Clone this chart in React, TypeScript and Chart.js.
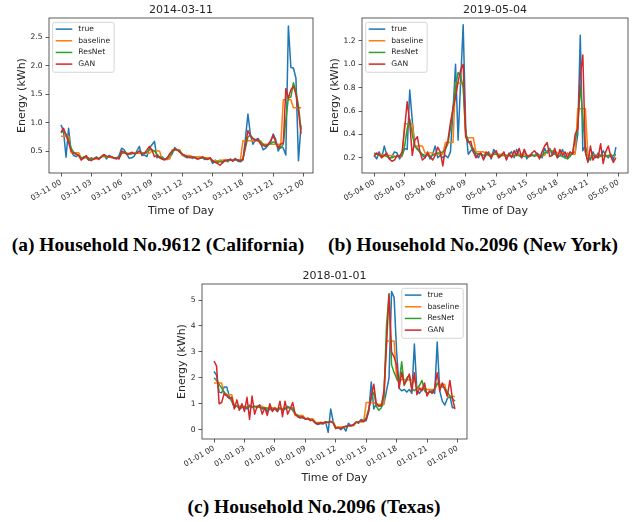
import React, { useEffect, useRef } from 'react';
import { Chart, registerables } from 'chart.js';

Chart.register(...registerables);
Chart.defaults.font.family = '"DejaVu Sans", sans-serif';

// ---------- shared ----------
const seriesNames = ['true', 'baseline', 'ResNet', 'GAN'];
const seriesColors = ['#1f77b4', '#ff7f0e', '#2ca02c', '#d62728'];
// 96 quarter-hour slots of one day, expressed in hours
const slotHours = Array.from({ length: 96 }, (_, i) => i / 4);
const tickHours = [0, 3, 6, 9, 12, 15, 18, 21, 24];

// ---------- (a) 2014-03-11 ----------
const xLabelsA = ['03-11 00', '03-11 03', '03-11 06', '03-11 09', '03-11 12', '03-11 15', '03-11 18', '03-11 21', '03-12 00'];
const yTicksA = [0.5, 1.0, 1.5, 2.0, 2.5];
const trueA = [
  0.96, 0.85, 0.39, 0.90, 0.50, 0.42, 0.40, 0.43, 0.36, 0.40, 0.38, 0.34,
  0.38, 0.36, 0.40, 0.35, 0.40, 0.43, 0.36, 0.42, 0.40, 0.37, 0.36, 0.42,
  0.55, 0.52, 0.45, 0.37, 0.38, 0.41, 0.50, 0.58, 0.42, 0.43, 0.40, 0.55,
  0.61, 0.67, 0.38, 0.40, 0.40, 0.36, 0.35, 0.38, 0.45, 0.56, 0.52, 0.50,
  0.43, 0.40, 0.38, 0.40, 0.37, 0.40, 0.36, 0.38, 0.38, 0.35, 0.37, 0.38,
  0.28, 0.34, 0.30, 0.34, 0.29, 0.35, 0.31, 0.36, 0.33, 0.37, 0.32, 0.31,
  0.34, 0.72, 1.15, 0.78, 0.62, 0.70, 0.72, 0.65, 0.52, 0.55, 0.60, 0.66,
  0.80, 0.70, 0.50, 0.58, 0.55, 0.43, 2.70, 1.97, 1.96, 1.78, 0.33, 0.95,
];
const baselineA = [
  0.76, 0.76, 0.76, 0.76, 0.47, 0.47, 0.47, 0.47, 0.38, 0.38, 0.38, 0.38,
  0.36, 0.36, 0.36, 0.36, 0.40, 0.40, 0.40, 0.40, 0.38, 0.38, 0.38, 0.38,
  0.46, 0.46, 0.46, 0.46, 0.46, 0.46, 0.46, 0.46, 0.46, 0.46, 0.46, 0.46,
  0.50, 0.50, 0.50, 0.50, 0.36, 0.36, 0.36, 0.36, 0.52, 0.52, 0.52, 0.52,
  0.42, 0.42, 0.42, 0.42, 0.40, 0.40, 0.40, 0.40, 0.38, 0.38, 0.38, 0.38,
  0.33, 0.33, 0.33, 0.33, 0.34, 0.34, 0.34, 0.34, 0.34, 0.34, 0.34, 0.34,
  0.68, 0.68, 0.68, 0.68, 0.68, 0.68, 0.68, 0.68, 0.62, 0.62, 0.62, 0.62,
  0.62, 0.62, 0.62, 0.62, 1.40, 1.40, 1.40, 1.40, 1.26, 1.26, 1.26, 1.26,
];
const resnetA = [
  0.82, 0.85, 0.80, 0.70, 0.55, 0.48, 0.45, 0.42, 0.38, 0.38, 0.40, 0.37,
  0.36, 0.37, 0.38, 0.37, 0.40, 0.42, 0.40, 0.40, 0.40, 0.38, 0.38, 0.38,
  0.46, 0.48, 0.46, 0.44, 0.45, 0.46, 0.47, 0.50, 0.47, 0.46, 0.48, 0.52,
  0.52, 0.50, 0.44, 0.40, 0.38, 0.36, 0.37, 0.42, 0.48, 0.52, 0.52, 0.50,
  0.45, 0.42, 0.40, 0.39, 0.39, 0.38, 0.37, 0.37, 0.38, 0.37, 0.36, 0.37,
  0.32, 0.31, 0.30, 0.31, 0.32, 0.33, 0.33, 0.34, 0.34, 0.35, 0.34, 0.33,
  0.36, 0.55, 0.75, 0.78, 0.72, 0.70, 0.68, 0.66, 0.62, 0.60, 0.61, 0.63,
  0.66, 0.64, 0.58, 0.55, 0.62, 1.05, 1.43, 1.45, 1.70, 1.55, 1.30, 0.88,
];
const ganA = [
  0.83, 0.90, 0.78, 0.65, 0.50, 0.46, 0.44, 0.42, 0.34, 0.38, 0.42, 0.35,
  0.33, 0.36, 0.38, 0.36, 0.40, 0.44, 0.41, 0.40, 0.40, 0.37, 0.38, 0.36,
  0.50, 0.48, 0.44, 0.45, 0.48, 0.45, 0.46, 0.50, 0.44, 0.46, 0.52, 0.58,
  0.52, 0.40, 0.42, 0.38, 0.36, 0.34, 0.38, 0.45, 0.50, 0.53, 0.52, 0.48,
  0.44, 0.42, 0.40, 0.38, 0.40, 0.38, 0.36, 0.37, 0.40, 0.37, 0.35, 0.38,
  0.33, 0.30, 0.28, 0.25, 0.30, 0.33, 0.34, 0.35, 0.32, 0.36, 0.34, 0.33,
  0.35, 0.60, 0.86, 0.76, 0.72, 0.68, 0.70, 0.62, 0.60, 0.58, 0.62, 0.68,
  0.78, 0.65, 0.55, 0.62, 0.64, 1.60, 1.43, 1.58, 1.64, 1.50, 1.20, 0.80,
];

// ---------- (b) 2019-05-04 ----------
const xLabelsB = ['05-04 00', '05-04 03', '05-04 06', '05-04 09', '05-04 12', '05-04 15', '05-04 18', '05-04 21', '05-05 00'];
const yTicksB = [0.2, 0.4, 0.6, 0.8, 1.0, 1.2];
const trueB = [
  0.22, 0.19, 0.25, 0.20, 0.30, 0.22, 0.19, 0.21, 0.25, 0.24, 0.19, 0.22,
  0.28, 0.27, 0.78, 0.52, 0.30, 0.28, 0.25, 0.22, 0.20, 0.25, 0.19, 0.23,
  0.30, 0.20, 0.22, 0.20, 0.22, 0.20, 0.25, 0.60, 1.00, 0.35, 0.85, 1.34,
  0.45, 0.23, 0.26, 0.28, 0.22, 0.20, 0.24, 0.19, 0.22, 0.25, 0.19, 0.27,
  0.24, 0.20, 0.22, 0.24, 0.19, 0.23, 0.25, 0.20, 0.27, 0.22, 0.20, 0.27,
  0.19, 0.22, 0.23, 0.21, 0.24, 0.22, 0.20, 0.28, 0.24, 0.28, 0.22, 0.25,
  0.20, 0.22, 0.27, 0.20, 0.24, 0.22, 0.24, 0.25, 0.40, 1.25, 0.26, 0.30,
  0.22, 0.18, 0.25, 0.20, 0.24, 0.21, 0.26, 0.22, 0.20, 0.23, 0.18, 0.29,
];
const baselineB = [
  0.23, 0.23, 0.23, 0.23, 0.22, 0.22, 0.22, 0.22, 0.21, 0.21, 0.21, 0.21,
  0.49, 0.49, 0.49, 0.49, 0.30, 0.30, 0.30, 0.30, 0.24, 0.24, 0.24, 0.24,
  0.23, 0.23, 0.23, 0.23, 0.33, 0.33, 0.33, 0.33, 0.84, 0.84, 0.84, 0.84,
  0.37, 0.37, 0.37, 0.37, 0.25, 0.25, 0.25, 0.25, 0.23, 0.23, 0.23, 0.23,
  0.23, 0.23, 0.23, 0.23, 0.22, 0.22, 0.22, 0.22, 0.23, 0.23, 0.23, 0.23,
  0.22, 0.22, 0.22, 0.22, 0.22, 0.22, 0.22, 0.22, 0.26, 0.26, 0.26, 0.26,
  0.24, 0.24, 0.24, 0.24, 0.23, 0.23, 0.23, 0.23, 0.62, 0.62, 0.62, 0.62,
  0.22, 0.22, 0.22, 0.22, 0.22, 0.22, 0.22, 0.22, 0.22, 0.22, 0.22, 0.22,
];
const resnetB = [
  0.24, 0.23, 0.22, 0.22, 0.22, 0.21, 0.20, 0.20, 0.21, 0.21, 0.22, 0.22,
  0.30, 0.45, 0.53, 0.40, 0.30, 0.27, 0.25, 0.23, 0.22, 0.22, 0.21, 0.22,
  0.23, 0.24, 0.24, 0.25, 0.27, 0.32, 0.45, 0.62, 0.80, 0.93, 0.90, 0.80,
  0.40, 0.35, 0.30, 0.25, 0.24, 0.23, 0.23, 0.22, 0.23, 0.22, 0.22, 0.23,
  0.23, 0.22, 0.22, 0.22, 0.22, 0.22, 0.21, 0.22, 0.22, 0.22, 0.22, 0.21,
  0.21, 0.21, 0.22, 0.22, 0.22, 0.21, 0.22, 0.24, 0.25, 0.27, 0.25, 0.23,
  0.22, 0.22, 0.21, 0.20, 0.19, 0.21, 0.25, 0.35, 0.45, 0.82, 0.55, 0.25,
  0.17, 0.20, 0.22, 0.21, 0.20, 0.22, 0.22, 0.21, 0.22, 0.21, 0.22, 0.23,
];
const ganB = [
  0.21, 0.24, 0.23, 0.20, 0.22, 0.24, 0.19, 0.17, 0.18, 0.22, 0.21, 0.25,
  0.45, 0.68, 0.50, 0.22, 0.35, 0.38, 0.25, 0.18, 0.20, 0.24, 0.21, 0.18,
  0.22, 0.29, 0.25, 0.13, 0.28, 0.35, 0.50, 0.62, 0.72, 0.85, 0.95, 1.00,
  0.38, 0.33, 0.34, 0.25, 0.20, 0.23, 0.24, 0.18, 0.25, 0.23, 0.20, 0.24,
  0.26, 0.20, 0.22, 0.25, 0.18, 0.24, 0.20, 0.26, 0.22, 0.28, 0.20, 0.27,
  0.22, 0.21, 0.24, 0.26, 0.23, 0.19, 0.25, 0.30, 0.33, 0.21, 0.22, 0.28,
  0.20, 0.27, 0.22, 0.25, 0.20, 0.25, 0.23, 0.40, 0.45, 0.90, 1.08, 0.25,
  0.16, 0.30, 0.18, 0.22, 0.20, 0.32, 0.15, 0.25, 0.30, 0.21, 0.16, 0.20,
];

// ---------- (c) 2018-01-01 ----------
const xLabelsC = ['01-01 00', '01-01 03', '01-01 06', '01-01 09', '01-01 12', '01-01 15', '01-01 18', '01-01 21', '01-02 00'];
const yTicksC = [0, 1, 2, 3, 4, 5];
const trueC = [
  2.25, 2.10, 1.45, 1.42, 1.65, 1.65, 1.30, 1.10, 0.85, 0.92, 0.80, 0.85,
  0.90, 0.80, 0.95, 0.85, 0.90, 0.85, 0.95, 0.80, 0.85, 0.70, 0.80, 0.75,
  0.80, 0.70, 0.85, 0.75, 0.80, 0.90, 0.85, 0.75, 0.60, 0.55, 0.50, 0.45,
  0.42, 0.40, 0.38, 0.35, 0.25, 0.20, 0.25, 0.22, 0.30, -0.10, 0.80, 0.30,
  0.05, 0.10, 0.00, 0.10, -0.05, 0.25, 0.15, 0.20, 0.30, 0.25, 0.40, 0.35,
  0.35, 0.70, 1.84, 0.80, 1.00, 0.95, 0.90, 1.00, 1.50, 2.00, 5.33, 5.10,
  3.00, 1.60, 1.50, 1.55, 1.45, 1.55, 1.40, 3.30, 1.50, 1.40, 1.55, 1.60,
  1.40, 1.45, 1.50, 1.40, 3.38, 1.50, 1.10, 0.95, 1.20, 1.30, 0.85, 0.85,
];
const baselineC = [
  1.80, 1.80, 1.80, 1.80, 1.35, 1.35, 1.35, 1.35, 0.90, 0.90, 0.90, 0.90,
  0.88, 0.88, 0.88, 0.88, 0.90, 0.90, 0.90, 0.90, 0.85, 0.85, 0.85, 0.85,
  0.82, 0.82, 0.82, 0.82, 0.85, 0.85, 0.85, 0.85, 0.55, 0.55, 0.55, 0.55,
  0.42, 0.42, 0.42, 0.42, 0.28, 0.28, 0.28, 0.28, 0.30, 0.30, 0.30, 0.30,
  0.10, 0.10, 0.10, 0.10, 0.15, 0.15, 0.15, 0.15, 0.30, 0.30, 0.30, 0.30,
  1.05, 1.05, 1.05, 1.05, 0.98, 0.98, 0.98, 0.98, 3.42, 3.42, 3.42, 3.42,
  1.93, 1.93, 1.93, 1.93, 1.93, 1.93, 1.93, 1.93, 1.60, 1.60, 1.60, 1.60,
  1.55, 1.55, 1.55, 1.55, 1.75, 1.75, 1.75, 1.75, 1.28, 1.28, 1.28, 1.28,
];
const resnetC = [
  2.00, 1.90, 1.75, 1.60, 1.45, 1.35, 1.25, 1.10, 0.95, 0.90, 0.88, 0.87,
  0.88, 0.86, 0.90, 0.88, 0.90, 0.88, 0.86, 0.85, 0.85, 0.80, 0.82, 0.80,
  0.80, 0.78, 0.82, 0.80, 0.82, 0.85, 0.85, 0.80, 0.62, 0.55, 0.50, 0.47,
  0.43, 0.42, 0.38, 0.35, 0.27, 0.24, 0.25, 0.24, 0.30, 0.28, 0.32, 0.28,
  0.06, 0.08, 0.06, 0.10, 0.12, 0.15, 0.16, 0.18, 0.28, 0.30, 0.35, 0.35,
  0.45, 0.80, 1.20, 1.45, 0.90, 0.75, 0.85, 1.30, 4.00, 5.25, 2.50, 2.20,
  2.00, 1.80, 2.62, 1.70, 2.00, 2.10, 1.60, 1.50, 1.60, 1.70, 1.90, 1.50,
  1.40, 1.45, 1.50, 1.55, 1.80, 1.70, 1.65, 1.60, 1.45, 1.30, 1.20, 1.10,
];
const ganC = [
  2.65, 2.45, 1.00, 1.05, 1.40, 1.30, 1.20, 1.25, 0.80, 1.15, 0.75, 1.00,
  0.70, 1.25, 0.40, 1.30, 0.60, 0.90, 0.95, 0.60, 0.85, 0.55, 1.00, 0.70,
  0.85, 0.70, 1.10, 0.50, 1.10, 0.60, 0.80, 1.05, 0.60, 0.50, 0.45, 0.50,
  0.40, 0.45, 0.35, 0.38, 0.25, 0.22, 0.28, 0.25, 0.30, 0.28, 0.32, 0.25,
  0.05, 0.08, 0.05, 0.10, 0.12, 0.15, 0.15, 0.18, 0.28, 0.30, 0.35, 0.32,
  0.40, 0.75, 1.30, 1.75, 1.00, 0.90, 0.95, 1.50, 3.20, 5.20, 3.00, 2.80,
  2.50, 1.60, 2.22, 1.75, 1.90, 2.15, 1.50, 2.20, 1.35, 1.60, 1.50, 1.80,
  1.30, 1.50, 1.40, 1.60, 2.20, 1.50, 1.80, 1.55, 1.30, 1.90, 1.20, 0.80,
];

// ---------- plugins ----------
const framePlugin = {
  id: 'axesFrame',
  afterDatasetsDraw(chart: any) {
    const { ctx, chartArea } = chart;
    ctx.save();
    ctx.strokeStyle = '#333333';
    ctx.lineWidth = 0.8;
    ctx.strokeRect(chartArea.left, chartArea.top, chartArea.right - chartArea.left, chartArea.bottom - chartArea.top);
    ctx.restore();
  },
};

const legendPlugin = {
  id: 'insideLegend',
  afterDraw(chart: any, _args: any, opts: any) {
    const { ctx, chartArea } = chart;
    const fontSize = 7.6;
    ctx.save();
    ctx.font = `${fontSize}px "DejaVu Sans"`;
    const names: string[] = seriesNames;
    const textW = Math.max(...names.map((n) => ctx.measureText(n).width));
    const w = 25.6 + textW + 4;
    const h = 50;
    const x = opts.corner === 'right' ? chartArea.right - 3.8 - w : chartArea.left + 3.7;
    const y = chartArea.top + 4.3;
    ctx.beginPath();
    if (ctx.roundRect) ctx.roundRect(x, y, w, h, 2);
    else ctx.rect(x, y, w, h);
    ctx.fillStyle = 'rgba(255,255,255,0.8)';
    ctx.fill();
    ctx.strokeStyle = '#cccccc';
    ctx.lineWidth = 0.8;
    ctx.stroke();
    names.forEach((n, k) => {
      const ry = y + 6.8 + k * 11.67;
      ctx.beginPath();
      ctx.strokeStyle = seriesColors[k];
      ctx.lineWidth = 1.5;
      ctx.moveTo(x + 3, ry);
      ctx.lineTo(x + 19.6, ry);
      ctx.stroke();
      ctx.fillStyle = '#262626';
      ctx.textBaseline = 'middle';
      ctx.textAlign = 'left';
      ctx.fillText(n, x + 25.6, ry);
    });
    ctx.restore();
  },
};

// ---------- panel ----------
type Geo = {
  left: number; top: number; width: number; height: number;
  yAxisW: number; padRight: number; titleTop: number; titleBottom: number;
  xAxisH: number; xTitleBottom: number; yTitleTop: number;
};

type PanelProps = {
  title: string;
  xLabels: string[];
  yTicks: number[];
  yDigits: number;
  yMin: number;
  yMax: number;
  series: number[][];
  legendCorner: 'left' | 'right';
  geo: Geo;
};

function Panel(p: PanelProps) {
  const ref = useRef<HTMLCanvasElement>(null);
  useEffect(() => {
    const g = p.geo;
    const tickColor = '#262626';
    const chart = new Chart(ref.current as HTMLCanvasElement, {
      type: 'line',
      data: {
        datasets: p.series.map((vals, k) => ({
          label: seriesNames[k],
          data: vals.map((v, i) => ({ x: slotHours[i], y: v })),
          borderColor: seriesColors[k],
          backgroundColor: seriesColors[k],
          borderWidth: 1.5,
          borderJoinStyle: 'round',
          pointRadius: 0,
          tension: 0,
          fill: false,
          order: 3 - k,
        })),
      } as any,
      options: {
        responsive: false,
        animation: false,
        events: [],
        layout: { padding: { left: 0, right: g.padRight, top: 0, bottom: 0 } },
        plugins: {
          legend: { display: false },
          tooltip: { enabled: false },
          title: {
            display: true,
            text: p.title,
            fullSize: false,
            color: tickColor,
            font: { size: 11, weight: 'normal' },
            padding: { top: g.titleTop, bottom: g.titleBottom },
          },
          insideLegend: { corner: p.legendCorner },
        } as any,
        scales: {
          x: {
            type: 'linear',
            min: -1.1875,
            max: 24.9375,
            afterBuildTicks: (s: any) => { s.ticks = tickHours.map((v) => ({ value: v })); },
            afterFit: (s: any) => { s.height = g.xAxisH; },
            ticks: {
              callback: (v: any) => p.xLabels[tickHours.indexOf(Number(v))] ?? '',
              minRotation: 30,
              maxRotation: 30,
              autoSkip: false,
              font: { size: 7.6 },
              color: tickColor,
              padding: 1.5,
            },
            grid: { display: true, drawOnChartArea: false, drawTicks: true, tickLength: 3.5, tickColor: '#333333', lineWidth: 0.8 },
            border: { display: false },
            title: {
              display: true,
              text: 'Time of Day',
              color: tickColor,
              font: { size: 11 },
              padding: { top: 0, bottom: g.xTitleBottom },
            },
          },
          y: {
            type: 'linear',
            min: p.yMin,
            max: p.yMax,
            afterBuildTicks: (s: any) => { s.ticks = p.yTicks.map((v) => ({ value: v })); },
            afterFit: (s: any) => { s.width = g.yAxisW; },
            ticks: {
              callback: (v: any) => Number(v).toFixed(p.yDigits),
              font: { size: 7.6 },
              color: tickColor,
              padding: 2.8,
            },
            grid: { display: true, drawOnChartArea: false, drawTicks: true, tickLength: 3.5, tickColor: '#333333', lineWidth: 0.8 },
            border: { display: false },
            title: {
              display: true,
              text: 'Energy (kWh)',
              color: tickColor,
              font: { size: 11 },
              padding: { top: g.yTitleTop, bottom: 0 },
            },
          },
        },
      } as any,
      plugins: [framePlugin, legendPlugin],
    });
    return () => chart.destroy();
  }, []);
  const g = p.geo;
  return (
    <canvas
      ref={ref}
      width={g.width}
      height={g.height}
      style={{ position: 'absolute', left: g.left, top: g.top, width: g.width, height: g.height }}
    />
  );
}

const captionStyle = (cx: number, cy: number): React.CSSProperties => ({
  position: 'absolute',
  left: cx - 200,
  top: cy - 12,
  width: 400,
  height: 24,
  lineHeight: '24px',
  textAlign: 'center',
  fontFamily: '"Liberation Serif", serif',
  fontWeight: 'bold',
  fontSize: 19.5,
  color: '#000',
  whiteSpace: 'nowrap',
});

export default function App() {
  return (
    <div style={{ position: 'absolute', left: 0, top: 0, width: 638, height: 522, background: '#fff', overflow: 'hidden' }}>
      <Panel
        title="2014-03-11"
        xLabels={xLabelsA}
        yTicks={yTicksA}
        yDigits={1}
        yMin={0.113}
        yMax={2.84}
        series={[trueA, baselineA, resnetA, ganA]}
        legendCorner="left"
        geo={{ left: 0, top: 0, width: 320, height: 225, yAxisW: 49, padRight: 7, titleTop: 3.4, titleBottom: 1.4, xAxisH: 52, xTitleBottom: 7.7, yTitleTop: 15.1 }}
      />
      <Panel
        title="2019-05-04"
        xLabels={xLabelsB}
        yTicks={yTicksB}
        yDigits={1}
        yMin={0.069}
        yMax={1.397}
        series={[trueB, baselineB, resnetB, ganB]}
        legendCorner="left"
        geo={{ left: 318, top: 0, width: 320, height: 225, yAxisW: 44, padRight: 10, titleTop: 3.4, titleBottom: 1.4, xAxisH: 52, xTitleBottom: 7.7, yTitleTop: 10.1 }}
      />
      <Panel
        title="2018-01-01"
        xLabels={xLabelsC}
        yTicks={yTicksC}
        yDigits={0}
        yMin={-0.358}
        yMax={5.617}
        series={[trueC, baselineC, resnetC, ganC]}
        legendCorner="right"
        geo={{ left: 160, top: 260, width: 320, height: 230, yAxisW: 42, padRight: 13, titleTop: 9.4, titleBottom: 1.4, xAxisH: 51, xTitleBottom: 5.1, yTitleTop: 15.1 }}
      />
      <div style={captionStyle(158, 245)}>(a) Household No.9612 (California)</div>
      <div style={captionStyle(473, 245)}>(b) Household No.2096 (New York)</div>
      <div style={captionStyle(314, 507)}>(c) Household No.2096 (Texas)</div>
    </div>
  );
}
